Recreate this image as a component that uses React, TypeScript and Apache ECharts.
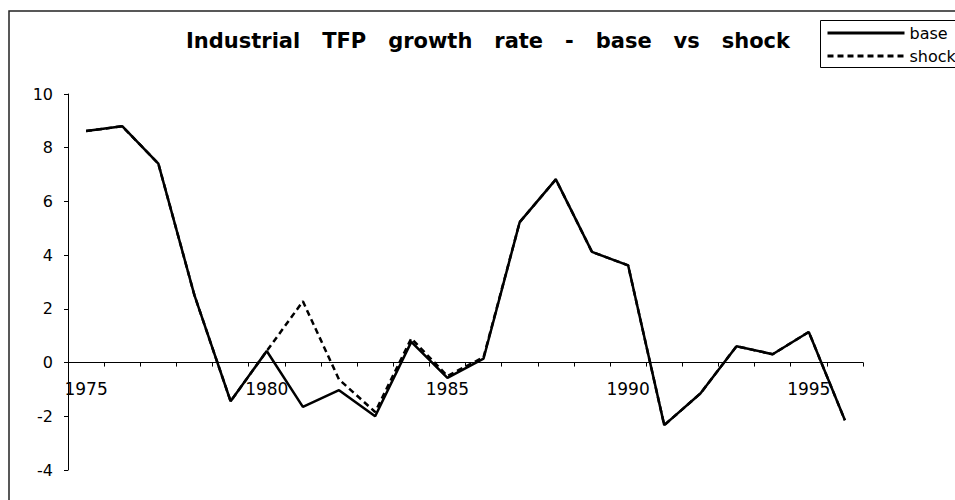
import React, { useEffect, useRef } from "react";
import * as echarts from "echarts";

const years = [
  "1975", "1976", "1977", "1978", "1979", "1980", "1981", "1982", "1983", "1984", "1985",
  "1986", "1987", "1988", "1989", "1990", "1991", "1992", "1993", "1994", "1995", "1996",
];
const baseValues = [
  8.62, 8.8, 7.41, 2.5, -1.44, 0.43, -1.65, -1.03, -2.0, 0.77, -0.57,
  0.15, 5.23, 6.82, 4.12, 3.62, -2.33, -1.15, 0.61, 0.31, 1.14, -2.15,
];
const shockValues = [
  8.62, 8.8, 7.41, 2.5, -1.44, 0.43, 2.28, -0.63, -1.84, 0.9, -0.5,
  0.2, 5.23, 6.82, 4.12, 3.62, -2.33, -1.15, 0.61, 0.31, 1.14, -2.15,
];
const seriesNames = ["base", "shock"];
const titleText = "Industrial   TFP   growth   rate   -   base   vs   shock";
const FONT = "DejaVu Sans";

export default function App() {
  const ref = useRef<HTMLDivElement>(null);
  useEffect(() => {
    document.body.style.margin = "0";
    if (!ref.current) return;
    const chart = echarts.init(ref.current, null, { renderer: "svg" });
    chart.setOption({
      animation: false,
      backgroundColor: "#fff",
      title: {
        text: titleText,
        left: 483,
        top: 25,
        textAlign: "center",
        textStyle: { fontFamily: FONT, fontWeight: "bold", fontSize: 21, color: "#000" },
      },
      legend: {
        data: seriesNames,
        orient: "vertical",
        left: 826,
        top: 25,
        padding: 0,
        itemWidth: 77,
        itemHeight: 14,
        itemGap: 7,
        itemStyle: { opacity: 0 },
        lineStyle: { width: 3, color: "#000" },
        textStyle: { fontFamily: FONT, fontSize: 16, color: "#000" },
      },
      graphic: [
        {
          type: "rect",
          shape: { x: 9, y: 11, width: 1000, height: 600 },
          style: { fill: "none", stroke: "#222", lineWidth: 1.5 },
          silent: true,
          z: -1,
        },
        {
          type: "rect",
          shape: { x: 820.5, y: 20.5, width: 200, height: 47 },
          style: { fill: "none", stroke: "#000", lineWidth: 1 },
          silent: true,
          z: -1,
        },
      ],
      grid: { left: 68, right: 92, top: 94, bottom: 30, containLabel: false },
      xAxis: {
        type: "category",
        data: years,
        boundaryGap: true,
        axisLine: { onZero: true, lineStyle: { color: "#000", width: 1 } },
        axisTick: { show: true, interval: 0, length: 4, lineStyle: { color: "#000" } },
        axisLabel: { interval: 4, margin: -90, color: "#000", fontSize: 17, fontFamily: FONT },
        splitLine: { show: false },
      },
      yAxis: {
        type: "value",
        min: -4,
        max: 10,
        interval: 2,
        axisLine: { show: true, lineStyle: { color: "#000", width: 1 } },
        axisTick: { show: true, length: 4, lineStyle: { color: "#000" } },
        axisLabel: { margin: 15, color: "#000", fontSize: 16, fontFamily: FONT },
        splitLine: { show: false },
      },
      series: [
        {
          name: "base",
          type: "line",
          data: baseValues,
          symbol: "none",
          z: 3,
          lineStyle: { color: "#000", width: 2.5, type: "solid" },
          itemStyle: { color: "#000" },
        },
        {
          name: "shock",
          type: "line",
          data: shockValues,
          symbol: "none",
          z: 2,
          lineStyle: { color: "#000", width: 2.5, type: [6, 4] },
          itemStyle: { color: "#000" },
        },
      ],
    });
    return () => chart.dispose();
  }, []);
  return <div ref={ref} style={{ width: 955, height: 500 }} />;
}
